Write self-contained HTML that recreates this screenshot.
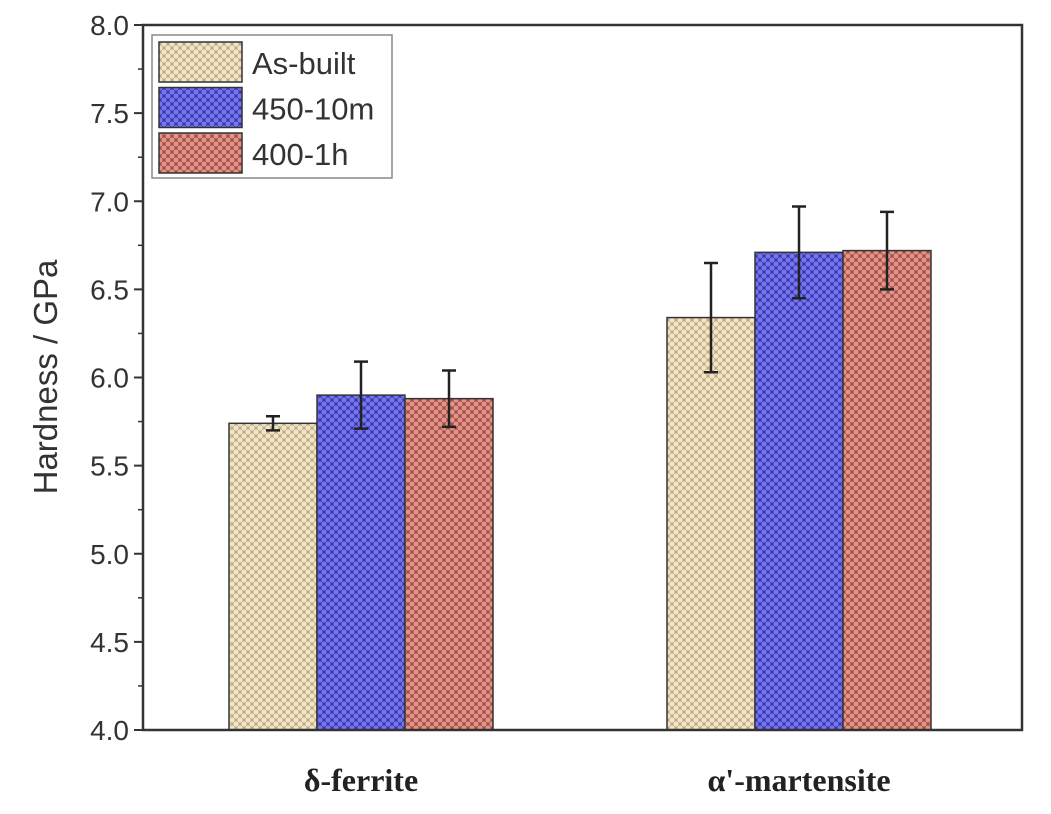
<!DOCTYPE html>
<html><head><meta charset="utf-8"><style>
body{margin:0;background:#fff;}
svg{display:block;font-family:"Liberation Sans",sans-serif;}
</style></head><body>
<svg id="chart" width="1051" height="814">
<defs>
<pattern id="pA" width="8" height="8" patternUnits="userSpaceOnUse"><rect width="8" height="8" fill="#bfa982"/><circle cx="4" cy="4" r="2.6" fill="#f1e5c8"/><circle cx="0" cy="0" r="2.6" fill="#f1e5c8"/><circle cx="8" cy="0" r="2.6" fill="#f1e5c8"/><circle cx="0" cy="8" r="2.6" fill="#f1e5c8"/><circle cx="8" cy="8" r="2.6" fill="#f1e5c8"/></pattern>
<pattern id="pB" width="8" height="8" patternUnits="userSpaceOnUse"><rect width="8" height="8" fill="#3434b0"/><circle cx="4" cy="4" r="2.6" fill="#7676ea"/><circle cx="0" cy="0" r="2.6" fill="#7676ea"/><circle cx="8" cy="0" r="2.6" fill="#7676ea"/><circle cx="0" cy="8" r="2.6" fill="#7676ea"/><circle cx="8" cy="8" r="2.6" fill="#7676ea"/></pattern>
<pattern id="pC" width="8" height="8" patternUnits="userSpaceOnUse"><rect width="8" height="8" fill="#a04842"/><circle cx="4" cy="4" r="2.6" fill="#e0948a"/><circle cx="0" cy="0" r="2.6" fill="#e0948a"/><circle cx="8" cy="0" r="2.6" fill="#e0948a"/><circle cx="0" cy="8" r="2.6" fill="#e0948a"/><circle cx="8" cy="8" r="2.6" fill="#e0948a"/></pattern>
</defs>
<g id="plot"></g>
</svg>
<script>
const categories = ["δ-ferrite", "α'-martensite"];
const seriesNames = ["As-built", "450-10m", "400-1h"];
const asBuilt = [5.74, 6.34];
const asBuiltErr = [0.04, 0.31];
const t450 = [5.90, 6.71];
const t450Err = [0.19, 0.26];
const t400 = [5.88, 6.72];
const t400Err = [0.16, 0.22];
const yTicks = [4.0, 4.5, 5.0, 5.5, 6.0, 6.5, 7.0, 7.5, 8.0];

const NS = "http://www.w3.org/2000/svg";
const g = document.getElementById('plot');
const L = 143, R = 1022, T = 25, B = 730, yMin = 4, yMax = 8;
const y = v => B - (v - yMin) / (yMax - yMin) * (B - T);
const groupCenters = [361, 799];
const barW = 88;
function mk(tag, attrs, parent) {
  const e = document.createElementNS(NS, tag);
  for (const k in attrs) e.setAttribute(k, attrs[k]);
  (parent || g).appendChild(e);
  return e;
}
const series = [[asBuilt, asBuiltErr, "url(#pA)"], [t450, t450Err, "url(#pB)"], [t400, t400Err, "url(#pC)"]];
series.forEach((s, si) => {
  categories.forEach((c, ci) => {
    const x0 = groupCenters[ci] + (si - 1.5) * barW;
    const r = mk('rect', {x: x0, y: y(s[0][ci]), width: barW, height: B - y(s[0][ci]), fill: s[2], stroke: "#333", "stroke-width": 1.5});
    
    
    const cx = x0 + barW / 2, hi = y(s[0][ci] + s[1][ci]), lo = y(s[0][ci] - s[1][ci]);
    const e = mk('path', {d: `M${cx},${hi}V${lo}M${cx-7},${hi}H${cx+7}M${cx-7},${lo}H${cx+7}`, stroke: "#222", "stroke-width": 2.5, fill: "none"});
    
    
  });
});
const frame = mk('rect', {x: L, y: T, width: R - L, height: B - T, fill: "none", stroke: "#333", "stroke-width": 2.5});


yTicks.forEach((v, i) => {
  const t = mk('line', {x1: L - 9, x2: L, y1: y(v), y2: y(v), stroke: "#333", "stroke-width": 2});
  
  
  if (i < yTicks.length - 1) {
    const m = mk('line', {x1: L - 5, x2: L, y1: y(v + 0.25), y2: y(v + 0.25), stroke: "#333", "stroke-width": 1.5});
    
    
  }
  const tx = mk('text', {x: L - 14, y: y(v) + 10, "text-anchor": "end", "font-size": 28, fill: "#333"});
  tx.textContent = v.toFixed(1);
  
  
});
categories.forEach((c, ci) => {
  const t = mk('text', {x: groupCenters[ci], y: 791, "text-anchor": "middle", "font-size": 32, "font-weight": "bold", "font-family": "Liberation Serif, serif", fill: "#222"});
  t.textContent = c;
  
  
});
const yt = mk('text', {x: 57, y: 377, transform: "rotate(-90 57 377)", "text-anchor": "middle", "font-size": 33, fill: "#333"});
yt.textContent = "Hardness / GPa";


const lb = mk('rect', {x: 152, y: 35, width: 240, height: 143, fill: "#fff", stroke: "#888", "stroke-width": 1.5});


const fills = ["url(#pA)", "url(#pB)", "url(#pC)"];
seriesNames.forEach((n, i) => {
  const sw = mk('rect', {x: 159, y: 42 + i * 45.5, width: 83, height: 40, fill: fills[i], stroke: "#333", "stroke-width": 1.5});
  
  
  const t = mk('text', {x: 252, y: 74 + i * 45.5, "font-size": 31, fill: "#333"});
  t.textContent = n;
  
  
});
</script>
</body></html>
